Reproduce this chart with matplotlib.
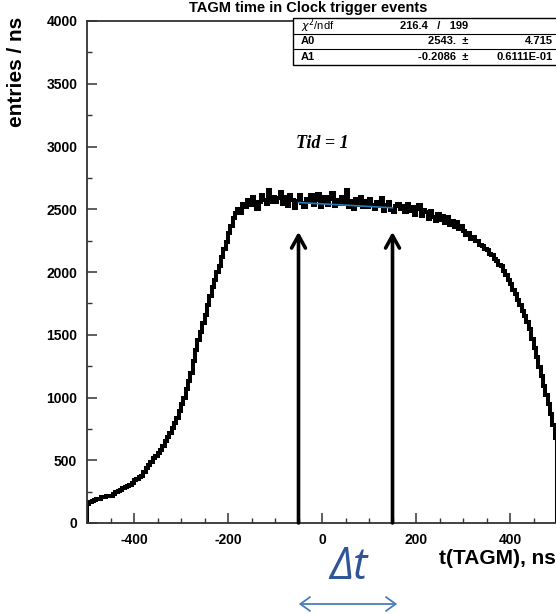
import matplotlib
matplotlib.use('Agg')
import matplotlib.pyplot as plt
import numpy as np
from matplotlib.patches import Rectangle, FancyArrowPatch
from matplotlib.lines import Line2D

plt.rcParams['font.family'] = ['Liberation Sans', 'DejaVu Sans']
plt.rcParams['axes.unicode_minus'] = False

# histogram, 5 ns bins from -500 to 500
bin_edges = np.arange(-500, 501, 5)
counts = [150, 165, 172, 182,
          188, 195, 205, 210,
          212, 218, 214, 232,
          250, 258, 266, 275,
          285, 295, 305, 318,
          340, 352, 365, 378,
          410, 435, 462, 490,
          515, 530, 555, 585,
          615, 650, 685, 720,
          760, 800, 840, 890,
          950, 1000, 1065, 1130,
          1195, 1290, 1380, 1460,
          1520, 1590, 1660, 1740,
          1810, 1880, 1940, 2000,
          2050, 2120, 2180, 2240,
          2310, 2370, 2430, 2470,
          2500, 2470, 2540, 2520,
          2570, 2530, 2595, 2555,
          2500, 2560, 2610, 2575,
          2540, 2650, 2560, 2600,
          2555, 2590, 2635, 2545,
          2595, 2525, 2610, 2570,
          2510, 2565, 2610, 2550,
          2515, 2585, 2560, 2610,
          2530, 2570, 2620, 2515,
          2560, 2595, 2535, 2580,
          2630, 2525, 2575, 2540,
          2595, 2545, 2650, 2520,
          2565, 2505, 2580, 2535,
          2600, 2520, 2565, 2515,
          2580, 2535, 2505, 2560,
          2525, 2590, 2490, 2535,
          2560, 2495, 2475, 2525,
          2545, 2500, 2525, 2475,
          2540, 2485, 2515, 2455,
          2505, 2530, 2445, 2495,
          2475, 2425, 2485, 2440,
          2405, 2465, 2415, 2445,
          2390, 2435, 2375, 2405,
          2355, 2395, 2340, 2370,
          2330, 2295, 2310, 2265,
          2280, 2245, 2250, 2215,
          2210, 2180, 2175, 2145,
          2135, 2105, 2090, 2055,
          2045, 2010, 1980, 1935,
          1905, 1860, 1825, 1775,
          1735, 1690, 1650, 1605,
          1545, 1465, 1395, 1320,
          1245, 1170, 1095, 1020,
          945, 865, 780, 680]

# linear fit p0 + p1*x
fit_a0 = 2543.0
fit_a1 = -0.2086
fit_range = [-50, 150]

arrow_x = [-50, 150]
arrow_top = 2320

stats_labels = ['$\\chi^2$/ndf', 'A0', 'A1']
stats_vals = ['216.4   /   199', '2543.  \u00b1', '-0.2086  \u00b1']
stats_errs = ['', '4.715', '0.6111E-01']

W, H = 556, 614


def fx(x):
    return x / W


def fy(y):
    return 1 - y / H


fig = plt.figure(figsize=(W / 100, H / 100), dpi=100)
ax = fig.add_axes([fx(87), fy(523), fx(557) - fx(87), fy(21) - fy(523)])

ax.stairs(counts, bin_edges, color='black', linewidth=2.9)

xf = np.array(fit_range, dtype=float)
ax.plot(xf, fit_a0 + fit_a1 * xf, color='#2b7bb9', linewidth=1.2, zorder=3)

for xa in arrow_x:
    ax.annotate('', xy=(xa, arrow_top), xytext=(xa, 0),
                arrowprops=dict(arrowstyle='->,head_length=0.9,head_width=0.5',
                                color='black', lw=2.6, shrinkA=0, shrinkB=0))

ax.set_xlim(-500, 500)
ax.set_ylim(0, 4000)
ax.set_xticks([-400, -200, 0, 200, 400])
ax.set_xticks(np.arange(-450, 500, 50), minor=True)
ax.set_yticks(np.arange(0, 4001, 500))
ax.set_yticks(np.arange(0, 4001, 250), minor=True)
for s in ax.spines.values():
    s.set_linewidth(1.3)
    s.set_color('#333333')
ax.tick_params(which='major', direction='in', length=7, width=1.1, color='#333333',
               labelsize=10, pad=7)
ax.tick_params(which='minor', direction='in', length=3.5, width=1.0, color='#333333')
for lab in ax.get_xticklabels() + ax.get_yticklabels():
    lab.set_fontweight('bold')

ax.text(0.5, 0.755, 'Tid = 1', transform=ax.transAxes, ha='center', va='center',
        family='Liberation Serif', style='italic', fontweight='bold', fontsize=13)

# title and axis labels
fig.text(fx(308), fy(8), 'TAGM time in Clock trigger events', ha='center', va='center',
         fontsize=10.5, fontweight='bold')
fig.text(fx(17), fy(72), 'entries / ns', rotation=90, ha='center', va='center',
         fontsize=15, fontweight='bold')
fig.text(fx(556), fy(558), 't(TAGM), ns', ha='right', va='center',
         fontsize=15, fontweight='bold')

# stats box
box_top, row_h = 18, 15.5
fig.patches.append(Rectangle((fx(293), fy(box_top + 3 * row_h)), fx(600) - fx(293),
                             fy(box_top) - fy(box_top + 3 * row_h),
                             transform=fig.transFigure, facecolor='white',
                             edgecolor='black', linewidth=1.0, zorder=5))
for i in range(3):
    yc = box_top + (i + 0.5) * row_h
    if i > 0:
        fig.lines.append(Line2D([fx(293), fx(600)], [fy(box_top + i * row_h)] * 2,
                                transform=fig.transFigure, color='black', lw=0.8, zorder=6))
    fig.text(fx(301), fy(yc), stats_labels[i], ha='left', va='center', fontsize=8,
             fontweight='normal' if i == 0 else 'bold', zorder=7)
    fig.text(fx(468), fy(yc), stats_vals[i], ha='right', va='center', fontsize=8,
             fontweight='bold', zorder=7)
    fig.text(fx(553), fy(yc), stats_errs[i], ha='right', va='center', fontsize=8,
             fontweight='bold', zorder=7)

# delta t annotation
fig.text(fx(348), fy(568), '\u0394t', ha='center', va='center', fontsize=31,
         style='italic', color='#2f5597', family=['Open Sans', 'DejaVu Sans'])
fig.patches.append(FancyArrowPatch((fx(296), fy(604)), (fx(400), fy(604)),
                                   transform=fig.transFigure,
                                   arrowstyle='<->,head_length=7,head_width=5',
                                   color='#4a7ebb', lw=1.3))

fig.savefig('out.png', dpi=100)
